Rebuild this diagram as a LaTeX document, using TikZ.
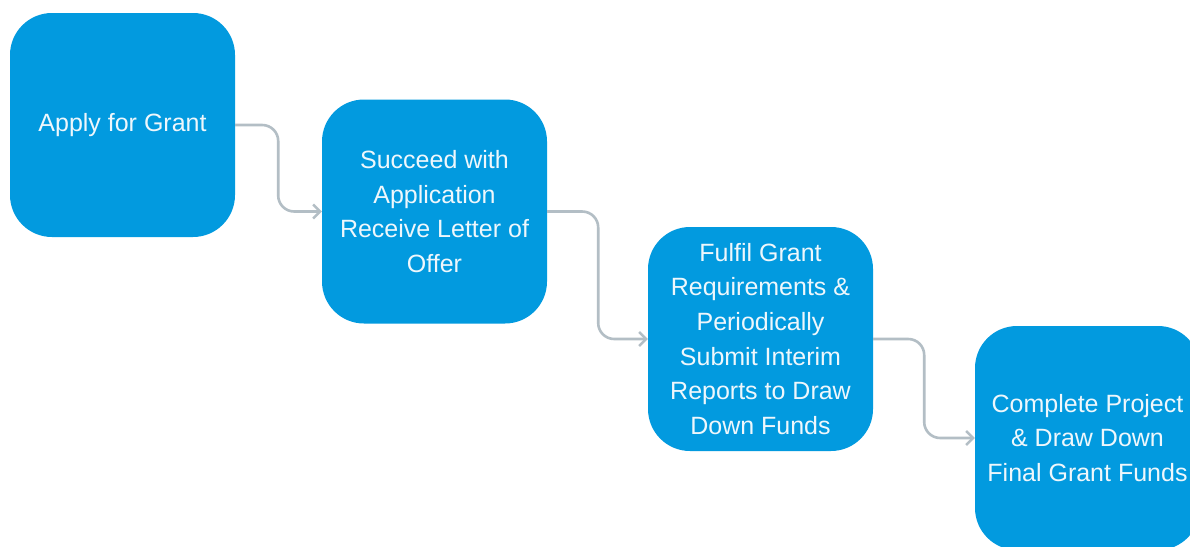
\documentclass[tikz,border=0pt]{standalone}
\usepackage{fontspec}
\setmainfont{Liberation Sans}
\usetikzlibrary{arrows.meta}
\definecolor{boxblue}{HTML}{029ADF}
\definecolor{txtwhite}{HTML}{EEF7FC}
\definecolor{linegray}{HTML}{B3BEC5}
\tikzset{
  stepbox/.style={rectangle, rounded corners=42pt, fill=boxblue, draw=none,
    minimum width=225pt, minimum height=224pt, align=center, text=txtwhite,
    font=\fontsize{25}{34.7}\selectfont, inner sep=0pt},
  conn/.style={draw=linegray, line width=2.6pt, rounded corners=16pt,
    -{Straight Barb[length=7pt,width=14pt,line width=2.4pt]}}
}
\begin{document}
\begin{tikzpicture}[x=1pt,y=-1pt]
\useasboundingbox (0,0) rectangle (1190,546);
\clip (0,0) rectangle (1190,546);
\fill[white] (0,0) rectangle (1190,546);
\node[stepbox] (b1) at (122.5,125) {\raisebox{-3pt}{Apply for Grant}};
\node[stepbox] (b2) at (434.5,211.5) {Succeed with\\Application\\Receive Letter of\\Offer};
\node[stepbox] (b3) at (760.5,339) {Fulfil Grant\\Requirements \&\\Periodically\\Submit Interim\\Reports to Draw\\Down Funds};
\node[stepbox] (b4) at (1087.5,438) {Complete Project\\\& Draw Down\\Final Grant Funds};
\draw[conn] (b1.east) -- ++(43,0) |- (b2.west);
\draw[conn] (b2.east) -- ++(51,0) |- (b3.west);
\draw[conn] (b3.east) -- ++(51,0) |- (b4.west);
\end{tikzpicture}
\end{document}
